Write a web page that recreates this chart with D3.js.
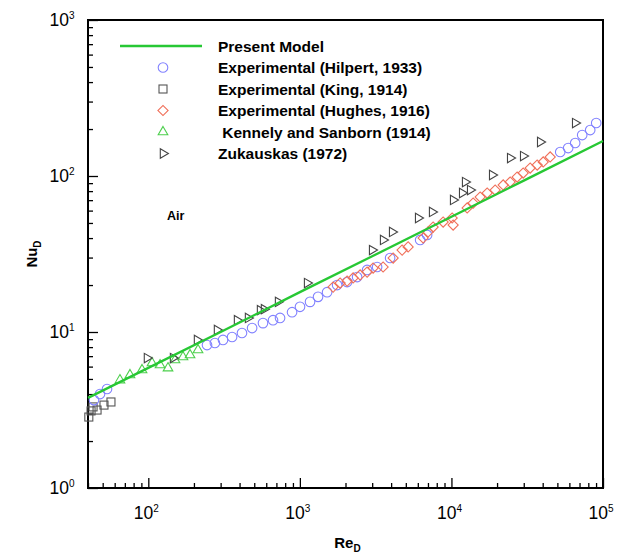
<!DOCTYPE html>
<html>
<head>
<meta charset="utf-8">
<script src="https://cdn.jsdelivr.net/npm/d3@7"></script>
<style>
  body { margin: 0; background: #fff; }
  svg { display: block; font-family: "Liberation Sans", Arial, sans-serif; }
</style>
</head>
<body>
<svg id="chart" width="619" height="554"></svg>
<script>
// data (Re_D, Nu_D)
const modelRe = [40, 100, 300, 1000, 3000, 10000, 30000, 100000];
const modelNu = [3.78, 5.89, 10.0, 18.0, 30.6, 54.8, 93.4, 167.6];

const hilpertRe = [43.8, 48.0, 53.4, 244, 275, 311, 357, 415, 484, 571, 665, 740, 888, 1002, 1167, 1318, 1512, 1761, 2049, 2386, 2777, 3233, 3939, 6215, 6912, 52200, 58920, 65530, 72900, 82330, 90200];
const hilpertNu = [3.66, 4.00, 4.31, 8.25, 8.50, 8.89, 9.29, 9.85, 10.6, 11.4, 11.9, 12.3, 13.4, 14.5, 15.6, 16.8, 18.0, 20.0, 20.9, 22.5, 25.0, 26.1, 29.8, 38.9, 41.9, 142.5, 151, 162.7, 183, 197, 218.6];

const kingRe = [40.5, 41.9, 43.2, 45.9, 51.0, 56.7];
const kingNu = [2.85, 3.12, 3.31, 3.16, 3.40, 3.56];

const hughesRe = [1656, 1843, 2049, 2245, 2497, 2777, 3042, 3541, 4124, 4727, 5178, 6506, 7018, 7572, 8815, 10260, 10110, 12700, 13910, 15470, 17210, 19430, 21950, 24410, 27140, 29740, 33070, 36790, 40310, 44810];
const hughesNu = [19.4, 20.6, 21.2, 22.2, 23.2, 24.2, 25.7, 26.1, 29.8, 33.5, 35.1, 40.1, 43.8, 47.1, 50.7, 48.5, 53.8, 62.4, 67.1, 73.3, 77.8, 81.3, 87.6, 91.5, 98.5, 104.5, 112.5, 117.6, 123, 132.4];

const kennelyRe = [65.0, 75.7, 90.9, 105.8, 119.5, 134.9, 150, 169.4, 188.5, 212.8];
const kennelyNu = [4.92, 5.30, 5.71, 6.33, 6.14, 5.87, 6.61, 6.91, 7.12, 7.67];

const zukRe = [98, 145.6, 209.6, 284, 385, 455, 546, 580, 718, 1116, 2997, 3541, 4062, 6030, 7456, 10260, 11770, 13290, 12310, 18570, 24410, 29740, 38510, 65530];
const zukNu = [6.81, 6.81, 8.89, 10.3, 11.9, 12.3, 13.8, 14.0, 15.6, 20.6, 33.5, 38.9, 43.8, 53.8, 58.8, 70.2, 77.8, 81.3, 91.5, 101.5, 130.4, 134.3, 165.2, 218.6];

const legendLabels = ['Present Model', 'Experimental (Hilpert, 1933)', 'Experimental (King, 1914)',
  'Experimental (Hughes, 1916)', '\u00a0Kennely and Sanborn (1914)', 'Zukauskas (1972)'];

const xDomain = [40, 100000];
const yDomain = [1, 1000];
const xMajor = [100, 1000, 10000, 100000];
const yMajor = [1, 10, 100, 1000];

const svg = d3.select('#chart');
const margin = { left: 88, right: 16, top: 20, bottom: 66 };
const width = 619 - margin.left - margin.right;
const height = 554 - margin.top - margin.bottom;

const x = d3.scaleLog().domain(xDomain).range([0, width]);
const y = d3.scaleLog().domain(yDomain).range([height, 0]);

const g = svg.append('g').attr('transform', `translate(${margin.left},${margin.top})`);

// minor + major ticks, pointing inwards
const xMinor = x.ticks().filter(v => !xMajor.includes(v));
const yMinor = y.ticks().filter(v => !yMajor.includes(v));

g.append('g').attr('transform', `translate(0,${height})`)
  .call(d3.axisBottom(x).tickValues(xMinor).tickSize(-5).tickFormat(''));
g.append('g').attr('transform', `translate(0,${height})`)
  .call(d3.axisBottom(x).tickValues(xMajor).tickSize(-10).tickFormat(''));
g.append('g')
  .call(d3.axisLeft(y).tickValues(yMinor).tickSize(-5).tickFormat(''));
g.append('g')
  .call(d3.axisLeft(y).tickValues(yMajor).tickSize(-10).tickFormat(''));

g.selectAll('.domain').remove();
g.selectAll('.tick line').attr('stroke', '#000').attr('stroke-width', 1.3);

// frame
g.append('rect')
  .attr('width', width).attr('height', height)
  .attr('fill', 'none').attr('stroke', '#000').attr('stroke-width', 2);

// tick labels 10^n
function powLabel(sel, v) {
  const e = Math.round(Math.log10(v));
  sel.append('tspan').text('10');
  sel.append('tspan').attr('dy', -7).attr('font-size', 10).text(e);
}

xMajor.forEach(v => {
  const t = g.append('text')
    .attr('x', x(v) - 2).attr('y', height + 31)
    .attr('text-anchor', 'middle').attr('font-size', 17.5);
  powLabel(t, v);
});
yMajor.forEach(v => {
  const t = g.append('text')
    .attr('x', -26).attr('y', y(v) + 6)
    .attr('text-anchor', 'middle').attr('font-size', 17.5);
  powLabel(t, v);
});

// axis titles
const xt = svg.append('text')
  .attr('x', margin.left + width / 2 + 2).attr('y', 548)
  .attr('text-anchor', 'middle').attr('font-size', 15).attr('font-weight', 'bold');
xt.append('tspan').text('Re');
xt.append('tspan').attr('dy', 4).attr('font-size', 10).text('D');

const yt = svg.append('text')
  .attr('transform', `translate(37,${margin.top + height / 2}) rotate(-90)`)
  .attr('text-anchor', 'middle').attr('font-size', 15).attr('font-weight', 'bold');
yt.append('tspan').text('Nu');
yt.append('tspan').attr('dy', 4).attr('font-size', 10).text('D');

g.append('text')
  .attr('x', 79).attr('y', 200)
  .attr('font-size', 12.5).attr('font-weight', 'bold').text('Air');

// markers
const plot = g.append('g');
const triUp = d3.symbol().type(d3.symbolTriangle).size(40);
const triRight = d3.symbol().type(d3.symbolTriangle).size(38);

function drawCircles(res, nus, color) {
  plot.selectAll(null).data(d3.zip(res, nus)).join('circle')
    .attr('cx', d => x(d[0])).attr('cy', d => y(d[1])).attr('r', 4.8)
    .attr('fill', 'none').attr('stroke', color).attr('stroke-width', 1.1);
}

function drawDiamonds(res, nus, color) {
  plot.selectAll(null).data(d3.zip(res, nus)).join('rect')
    .attr('x', -3.6).attr('y', -3.6).attr('width', 7.2).attr('height', 7.2)
    .attr('transform', d => `translate(${x(d[0])},${y(d[1])}) rotate(45)`)
    .attr('fill', 'none').attr('stroke', color).attr('stroke-width', 1.1);
}

function drawSquares(res, nus, color) {
  plot.selectAll(null).data(d3.zip(res, nus)).join('rect')
    .attr('x', d => x(d[0]) - 4).attr('y', d => y(d[1]) - 4)
    .attr('width', 8).attr('height', 8)
    .attr('fill', 'none').attr('stroke', color).attr('stroke-width', 1.1);
}

function drawTriangles(res, nus, color, sym, rot) {
  plot.selectAll(null).data(d3.zip(res, nus)).join('path')
    .attr('d', sym)
    .attr('transform', d => `translate(${x(d[0])},${y(d[1])}) rotate(${rot})`)
    .attr('fill', 'none').attr('stroke', color).attr('stroke-width', 1.1);
}

drawSquares(kingRe, kingNu, '#555');
drawTriangles(kennelyRe, kennelyNu, '#4ccf4c', triUp, 0);
drawCircles(hilpertRe, hilpertNu, '#8282ff');
drawDiamonds(hughesRe, hughesNu, '#f0705a');
drawTriangles(zukRe, zukNu, '#444', triRight, 90);

// model line
const line = d3.line().x(d => x(d[0])).y(d => y(d[1]));
plot.append('path')
  .datum(d3.zip(modelRe, modelNu))
  .attr('d', line)
  .attr('fill', 'none').attr('stroke', '#27c834').attr('stroke-width', 2.4);

// legend
const leg = svg.append('g').attr('transform', 'translate(0,46)');
const rowH = 21.5;
legendLabels.forEach((lab, i) => {
  leg.append('text')
    .attr('x', 218).attr('y', i * rowH + 5.5)
    .attr('font-size', 15.5).attr('font-weight', 'bold')
    .text(lab);
});
leg.append('line')
  .attr('x1', 120).attr('x2', 202).attr('y1', 0).attr('y2', 0)
  .attr('stroke', '#27c834').attr('stroke-width', 2.4);
const mx = 163;
leg.append('circle').attr('cx', mx).attr('cy', rowH).attr('r', 4.8)
  .attr('fill', 'none').attr('stroke', '#8282ff').attr('stroke-width', 1.1);
leg.append('rect').attr('x', mx - 4).attr('y', 2 * rowH - 4).attr('width', 8).attr('height', 8)
  .attr('fill', 'none').attr('stroke', '#555').attr('stroke-width', 1.1);
leg.append('rect').attr('x', -3.6).attr('y', -3.6).attr('width', 7.2).attr('height', 7.2)
  .attr('transform', `translate(${mx},${3 * rowH}) rotate(45)`)
  .attr('fill', 'none').attr('stroke', '#f0705a').attr('stroke-width', 1.1);
leg.append('path').attr('d', triUp)
  .attr('transform', `translate(${mx},${4 * rowH})`)
  .attr('fill', 'none').attr('stroke', '#4ccf4c').attr('stroke-width', 1.1);
leg.append('path').attr('d', triRight)
  .attr('transform', `translate(${mx},${5 * rowH}) rotate(90)`)
  .attr('fill', 'none').attr('stroke', '#444').attr('stroke-width', 1.1);
</script>
</body>
</html>
